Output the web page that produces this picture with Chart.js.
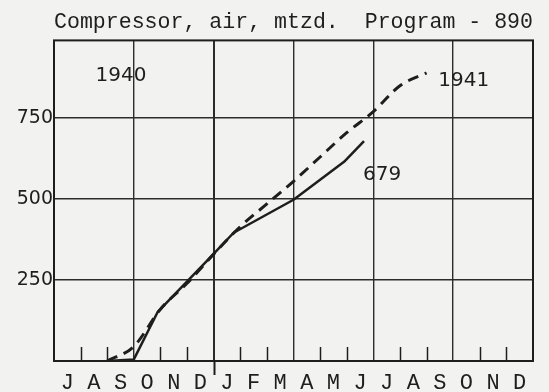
<!DOCTYPE html>
<html>
<head>
<meta charset="utf-8">
<script src="https://cdn.jsdelivr.net/npm/chart.js@4/dist/chart.umd.min.js"></script>
<style>
  html, body { margin:0; padding:0; background:#f2f2f0; }
  canvas { display:block; }
</style>
</head>
<body>
<canvas id="chart" width="549" height="392"></canvas>
<script>
// ===== data =====
// x = months counted from 1 July 1940 (0) to 31 Dec 1941 (18)
const monthLabels = ['J','A','S','O','N','D','J','F','M','A','M','J','J','A','S','O','N','D'];
const yTickValues = [250, 500, 750];

// cumulative program (dashed)
const programMonths = [2, 3, 4, 5, 6, 7, 8, 9, 10, 11, 12, 13, 14];
const programValues = [0, 45, 160, 240, 330, 415, 485, 555, 630, 705, 770, 850, 890];

// cumulative actual (solid)
const actualMonths = [2, 3, 3.9, 5.9, 6.75, 9, 10, 10.9, 11.65];
const actualValues = [0, 5, 152, 322, 396, 498, 560, 615, 679];

const INK = '#1e1e1e';
const GRID = '#2c2c2c';

const toPoints = (xs, ys) => xs.map((x, i) => ({ x, y: ys[i] }));

// ===== plugins =====
const paper = {
  id: 'paper',
  beforeDraw(chart){
    const c = chart.ctx;
    c.save();
    c.fillStyle = '#f2f2f0';
    c.fillRect(0, 0, chart.width, chart.height);
    c.restore();
  }
};

// frame, month ticks inside the axis, the D|J year mark below it
const frame = {
  id: 'frame',
  afterDatasetsDraw(chart){
    const c = chart.ctx, a = chart.chartArea, xs = chart.scales.x;
    c.save();
    c.strokeStyle = INK;
    c.lineWidth = 2;
    c.strokeRect(a.left, a.top, a.right - a.left, a.bottom - a.top);
    c.lineWidth = 1.5;
    for (let m = 1; m < monthLabels.length; m++) {
      const px = Math.round(xs.getPixelForValue(m)) + 0.5;
      c.beginPath();
      if (m % 3 !== 0) {
        c.moveTo(px, a.bottom); c.lineTo(px, a.bottom - 14);
      } else if (m === 6) {
        c.lineWidth = 2;
        c.moveTo(px, a.bottom); c.lineTo(px, a.bottom + 14);
      }
      c.stroke();
      c.lineWidth = 1.5;
    }
    c.restore();
  }
};

// handwritten notes on the chart
const notes = {
  id: 'notes',
  afterDatasetsDraw(chart){
    const c = chart.ctx, xs = chart.scales.x, ys = chart.scales.y;
    c.save();
    c.fillStyle = INK;
    c.font = '20px "DejaVu Sans"';
    c.textBaseline = 'middle';
    c.textAlign = 'center';
    c.fillText('1940', xs.getPixelForValue(2.52), ys.getPixelForValue(881));
    c.fillText('1941', xs.getPixelForValue(15.4), ys.getPixelForValue(866));
    // last actual value, written under the end of the line
    const n = actualMonths.length - 1;
    const px = xs.getPixelForValue(actualMonths[n]);
    const py = ys.getPixelForValue(actualValues[n]);
    c.textAlign = 'left';
    c.fillText(String(actualValues[n]), px - 1, py + 34);
    c.restore();
  }
};

// ===== chart =====
new Chart(document.getElementById('chart').getContext('2d'), {
  type: 'line',
  data: {
    datasets: [
      {
        label: 'Program',
        data: toPoints(programMonths, programValues),
        borderColor: INK,
        borderWidth: 3,
        borderDash: [11, 7],
        pointRadius: 0,
        cubicInterpolationMode: 'monotone',
        fill: false
      },
      {
        label: 'Actual',
        data: toPoints(actualMonths, actualValues),
        borderColor: INK,
        borderWidth: 2.5,
        borderJoinStyle: 'round',
        pointRadius: 0,
        tension: 0,
        fill: false
      }
    ]
  },
  options: {
    responsive: false,
    animation: false,
    layout: { padding: { left: 0, right: 16, top: 0, bottom: 0 } },
    plugins: {
      legend: { display: false },
      tooltip: { enabled: false },
      title: {
        display: true,
        fullSize: false,
        align: 'center',
        text: 'Compressor, air, mtzd.  Program - 890',
        color: INK,
        font: { family: '"Liberation Mono"', size: 22, weight: 'normal', lineHeight: 1.2 },
        padding: { top: 9, bottom: 5 }
      }
    },
    scales: {
      x: {
        type: 'linear',
        min: 0,
        max: monthLabels.length,
        afterBuildTicks(scale){
          const t = [];
          for (let i = 0; i <= monthLabels.length * 2; i++) t.push({ value: i / 2 });
          scale.ticks = t;
        },
        afterFit(scale){ scale.height = 31; },
        border: { display: false },
        grid: {
          drawTicks: false,
          color: ctx => {
            const v = ctx.tick ? ctx.tick.value : 0;
            return (v > 0 && v < monthLabels.length && v % 3 === 0) ? GRID : 'rgba(0,0,0,0)';
          },
          lineWidth: ctx => (ctx.tick && ctx.tick.value === 6) ? 2 : 1.4
        },
        ticks: {
          autoSkip: false,
          maxRotation: 0,
          padding: 9,
          color: INK,
          font: { family: '"Liberation Mono"', size: 22 },
          callback: v => Number.isInteger(v) ? '' : monthLabels[Math.floor(v)]
        }
      },
      y: {
        min: 0,
        max: 990,
        afterBuildTicks(scale){
          scale.ticks = yTickValues.map(v => ({ value: v }));
        },
        afterFit(scale){ scale.width = 54; },
        border: { display: false },
        grid: { drawTicks: false, color: GRID, lineWidth: 1.4 },
        ticks: {
          padding: 1,
          color: INK,
          font: { family: '"DejaVu Sans"', size: 19 }
        }
      }
    }
  },
  plugins: [paper, frame, notes]
});
</script>
</body>
</html>
